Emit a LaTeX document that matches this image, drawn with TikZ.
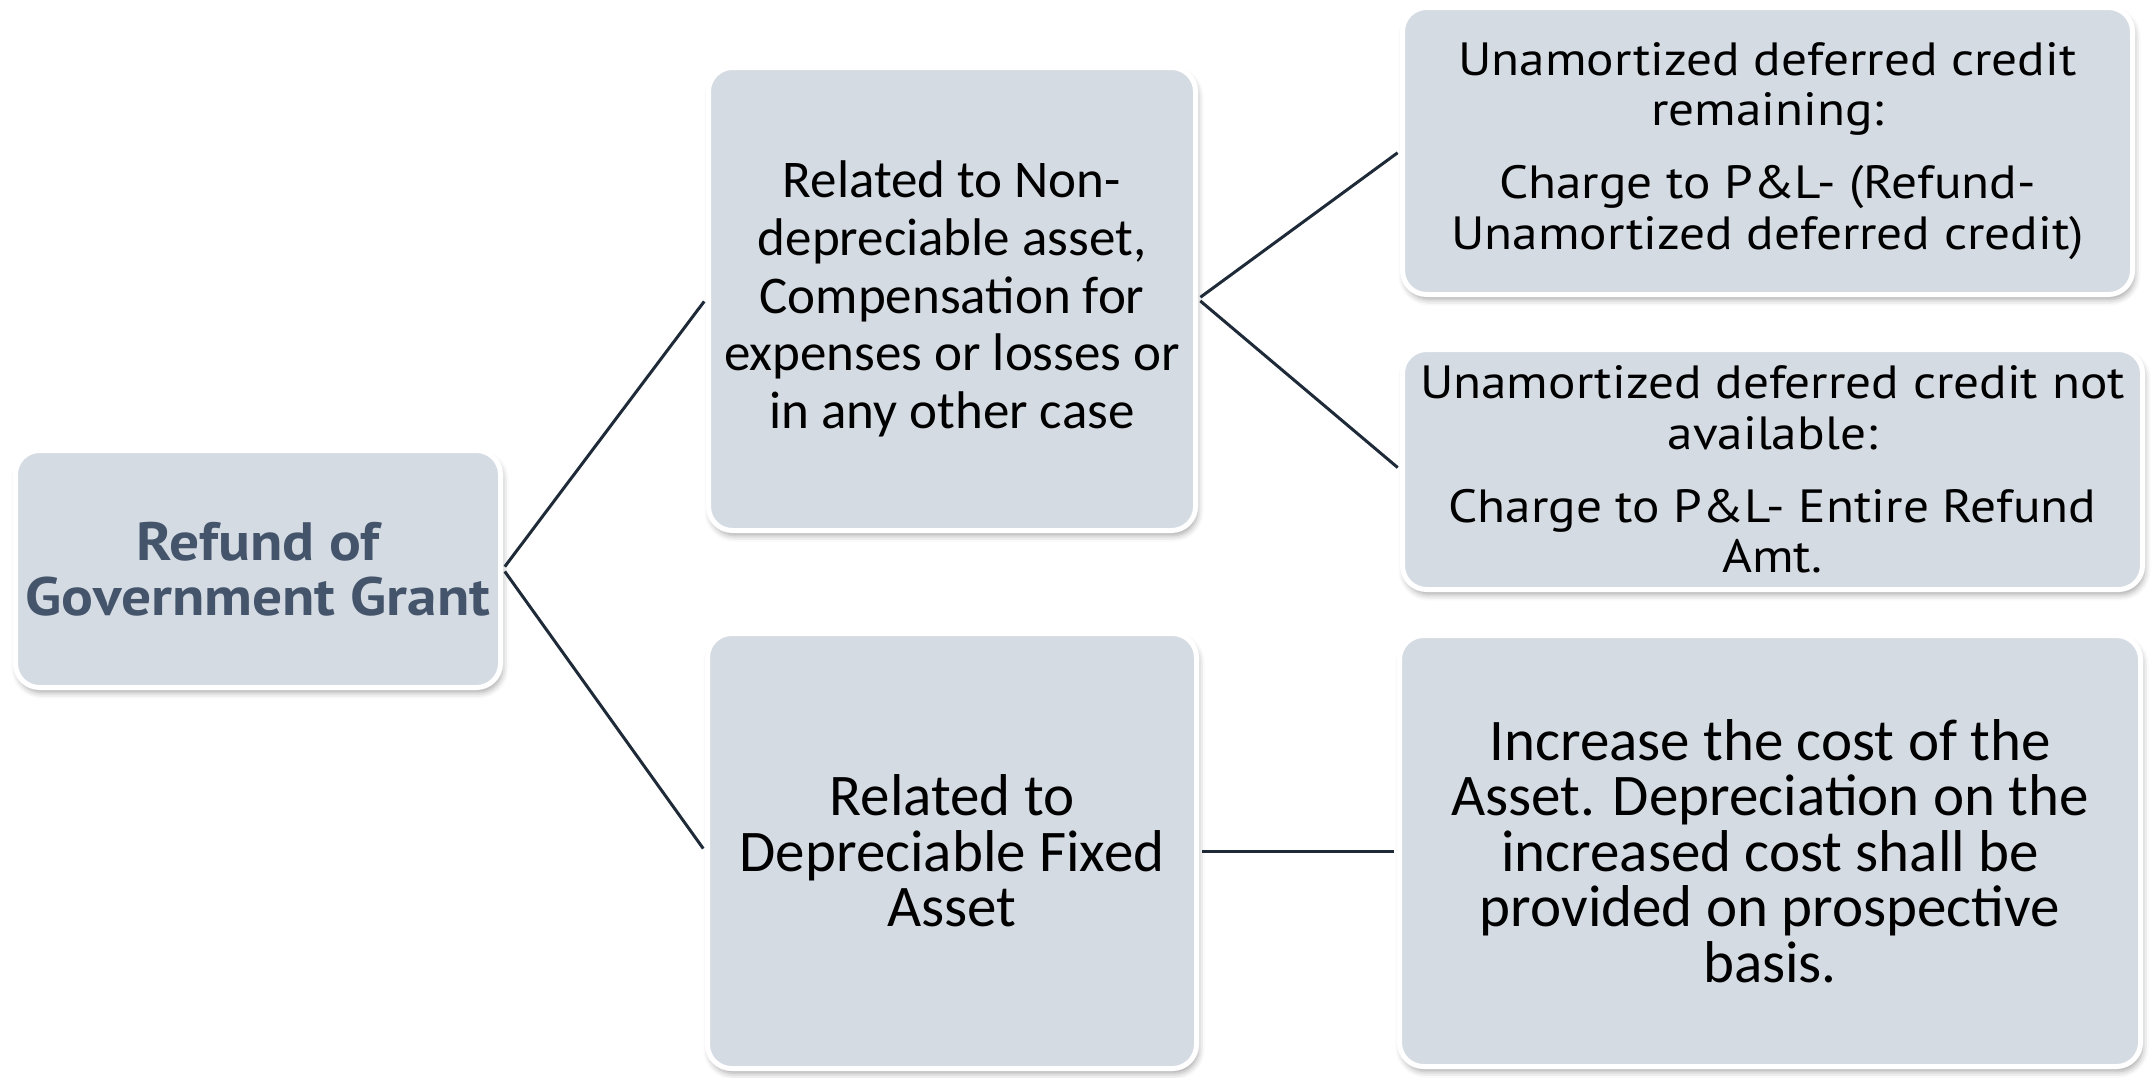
\documentclass[tikz,border=0pt]{standalone}
\usepackage{fontspec}
\setmainfont{Carlito}
\newfontfamily\ptsans[FakeStretch=1.1]{PT Sans}
\usetikzlibrary{shadows.blur}

\definecolor{boxfill}{RGB}{213,219,227}
\definecolor{linkcol}{RGB}{30,42,56}
\definecolor{titlecol}{RGB}{68,84,106}

\tikzset{
  box/.style={rectangle, rounded corners=12pt, fill=boxfill, draw=white,
    line width=2.5pt, inner sep=0pt, align=center,
    blur shadow={shadow xshift=1pt, shadow yshift=-2.5pt,
      shadow blur radius=3pt, shadow opacity=35}},
  bodytext/.style={font=\fontsize{26.5pt}{28.8pt}\selectfont},
  bigtext/.style={font=\fontsize{29.5pt}{27.8pt}\selectfont},
  notetext/.style={font=\ptsans\fontsize{23.3pt}{25.4pt}\selectfont},
  titletext/.style={font=\ptsans\bfseries\fontsize{27pt}{27.5pt}\selectfont, text=titlecol},
  link/.style={draw=linkcol, line width=1.5pt, shorten <=1.5pt, shorten >=1.5pt}
}

\begin{document}
\begin{tikzpicture}[x=0.5pt,y=-0.5pt]
  \useasboundingbox (0,0) rectangle (2151,1077);

  % root
  \node[box, titletext, minimum width=242.5pt, minimum height=118.5pt]
    (root) at (258,569) {Refund of\\Government Grant};

  % second level
  \node[box, bodytext, minimum width=243.5pt, minimum height=231.5pt]
    (nondep) at (952,299)
    {Related to Non-\\depreciable asset,\\Compensation for\\expenses or losses or\\in any other case};
  \node[box, bigtext, minimum width=244.5pt, minimum height=217.5pt]
    (dep) at (952,851) {Related to\\Depreciable Fixed\\Asset};

  % third level
  \node[box, notetext, minimum width=365pt, minimum height=143.5pt]
    (remain) at (1767.5,151)
    {Unamortized deferred credit\\remaining:\\[11pt]Charge to P\&L- (Refund-\\Unamortized deferred credit)};
  \node[box, notetext, minimum width=370pt, minimum height=120pt]
    (notavail) at (1772.5,469.5)
    {Unamortized deferred credit not\\available:\\[11pt]Charge to P\&L- Entire Refund\\Amt.};
  \node[box, bigtext, minimum width=370.5pt, minimum height=215.5pt]
    (cost) at (1770,851)
    {Increase the cost of the\\Asset. Depreciation on the\\increased cost shall be\\provided on prospective\\basis.};

  % connectors
  \draw[link] (root.east) -- (nondep.west);
  \draw[link] (root.east) -- (dep.west);
  \draw[link] (nondep.east) -- (remain.west);
  \draw[link] (nondep.east) -- (notavail.west);
  \draw[link] (dep.east) -- (cost.west);
\end{tikzpicture}
\end{document}
